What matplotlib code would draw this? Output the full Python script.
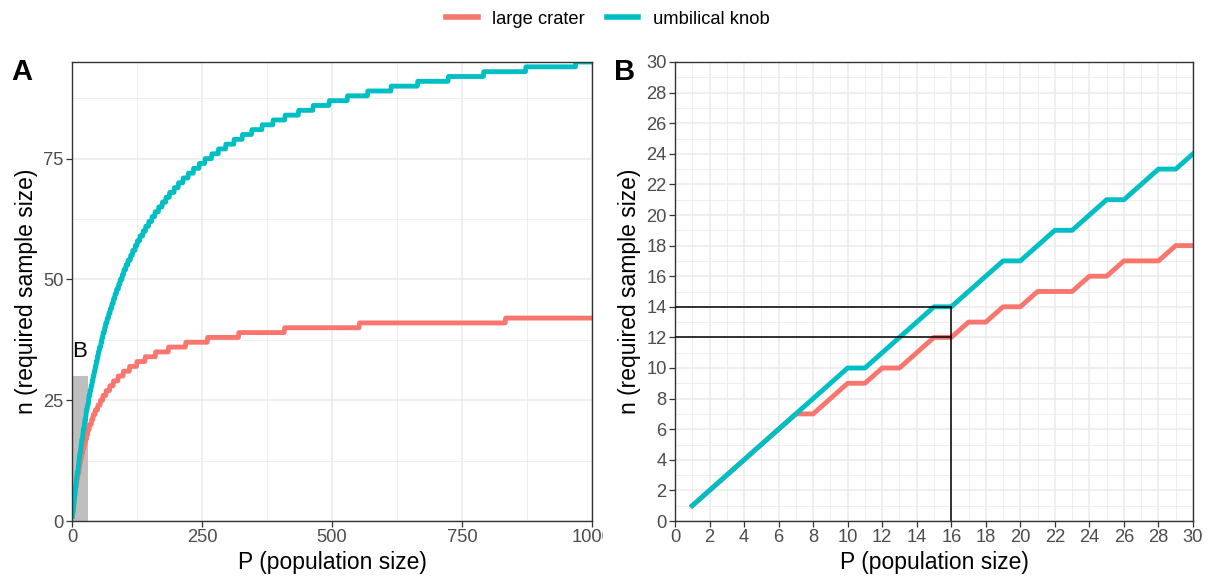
import numpy as np
import matplotlib
matplotlib.use("Agg")
import matplotlib.pyplot as plt
from matplotlib.lines import Line2D
from matplotlib.transforms import Bbox, TransformedBbox

# population size where the required sample size first reaches 1, 2, 3, ...
crater_steps = [1, 2, 3, 4, 5, 6, 7, 9, 10, 12, 14, 15, 17, 19, 21, 24, 26, 29,
                31, 34, 38, 41, 45, 50, 55, 60, 66, 73, 80, 89, 99, 111, 125,
                141, 161, 186, 219, 261, 321, 409, 553, 834]
knob_steps = [1, 2, 3, 4, 5, 6, 7, 8, 9, 10, 12, 13, 14, 15, 17, 18, 19, 21, 22,
              24, 25, 27, 28, 30, 32, 33, 35, 37, 39, 41, 43, 45, 47, 49, 51,
              53, 56, 58, 60, 63, 65, 68, 71, 74, 77, 80, 83, 86, 90, 93, 97,
              100, 104, 108, 113, 117, 122, 126, 131, 137, 142, 148, 154, 160,
              167, 174, 181, 188, 197, 205, 214, 224, 234, 245, 256, 269, 282,
              296, 312, 328, 346, 366, 387, 410, 436, 464, 495, 530, 569, 614,
              665, 724, 792, 873, 969]
pop_max = 1000
zoom_max = 30
ref_pop = 16
ref_n = [14, 12]

series_names = ["large crater", "umbilical knob"]
series_colors = ["#F8766D", "#00BFC4"]

P = np.arange(1, pop_max + 1)
crater_n = np.searchsorted(crater_steps, P, side="right")
knob_n = np.searchsorted(knob_steps, P, side="right")

plt.rcParams["font.family"] = ["Liberation Sans", "DejaVu Sans"]

grid_col = "#EBEBEB"
border_col = "#333333"
tick_lab_col = "#4D4D4D"
lw_curve = 3.5


def styleAxis(ax):
    ax.set_axisbelow(True)
    ax.grid(which="major", color=grid_col, linewidth=1.1)
    ax.grid(which="minor", color=grid_col, linewidth=0.6)
    for s in ax.spines.values():
        s.set_color(border_col)
        s.set_linewidth(1.0)
    ax.tick_params(which="major", direction="out", length=4, width=0.9,
                   color=border_col, labelcolor=tick_lab_col, labelsize=13.2, pad=2)
    ax.tick_params(which="minor", length=0)
    ax.set_xlabel("P (population size)", fontsize=16.5, labelpad=3)
    ax.set_ylabel("n (required sample size)", fontsize=16.5, labelpad=4)


fig = plt.figure(figsize=(12.16, 5.78), dpi=100)
axA = fig.add_axes([72 / 1216, 57 / 578, 520 / 1216, 459 / 578])
axB = fig.add_axes([675 / 1216, 57 / 578, 518 / 1216, 459 / 578])

# panel A
axA.add_patch(plt.Rectangle((0, 0), zoom_max, zoom_max, color="#BEBEBE", zorder=1.5, lw=0))
axA.plot(P, crater_n, color=series_colors[0], lw=lw_curve, zorder=2)
axA.plot(P, knob_n, color=series_colors[1], lw=lw_curve, zorder=2.1)
axA.text(15, 35, "B", ha="center", va="center", fontsize=16, zorder=3)
axA.set_xlim(0, pop_max)
axA.set_ylim(0, knob_n.max())
axA.set_xticks([0, 250, 500, 750, 1000])
axA.set_xticks([125, 375, 625, 875], minor=True)
axA.set_yticks([0, 25, 50, 75])
axA.set_yticks([12.5, 37.5, 62.5, 87.5], minor=True)
styleAxis(axA)

# panel B
sub = P <= zoom_max
axB.plot(P[sub], crater_n[sub], color=series_colors[0], lw=lw_curve, zorder=2)
axB.plot(P[sub], knob_n[sub], color=series_colors[1], lw=lw_curve, zorder=2.1)
for n in ref_n:
    axB.plot([0, ref_pop], [n, n], color="black", lw=1.1, zorder=3)
axB.plot([ref_pop, ref_pop], [0, max(ref_n)], color="black", lw=1.1, zorder=3)
axB.set_xlim(0, zoom_max)
axB.set_ylim(0, zoom_max)
axB.set_xticks(np.arange(0, zoom_max + 1, 2))
axB.set_xticks(np.arange(1, zoom_max, 2), minor=True)
axB.set_yticks(np.arange(0, zoom_max + 1, 2))
axB.set_yticks(np.arange(1, zoom_max, 2), minor=True)
styleAxis(axB)

fig.text(11 / 1216, 1 - 72 / 578, "A", fontsize=21, fontweight="bold", va="center", ha="left")
fig.text(614 / 1216, 1 - 72 / 578, "B", fontsize=21, fontweight="bold", va="center", ha="left")

# the 1000 label is cut off by panel B's area
fig.canvas.draw()
clip = TransformedBbox(Bbox([[0, 0], [603 / 1216, 1]]), fig.transFigure)
for lab in axA.get_xticklabels():
    lab.set_clip_box(clip)
    lab.set_clip_on(True)

handles = [Line2D([], [], color=c, lw=4) for c in series_colors]
fig.legend(handles, series_names, loc="upper center", bbox_to_anchor=(0.5, 1.01),
           ncol=2, frameon=False, fontsize=13.2, handlelength=1.7,
           columnspacing=1.2, handletextpad=0.8)

fig.savefig("out.png", dpi=100)
